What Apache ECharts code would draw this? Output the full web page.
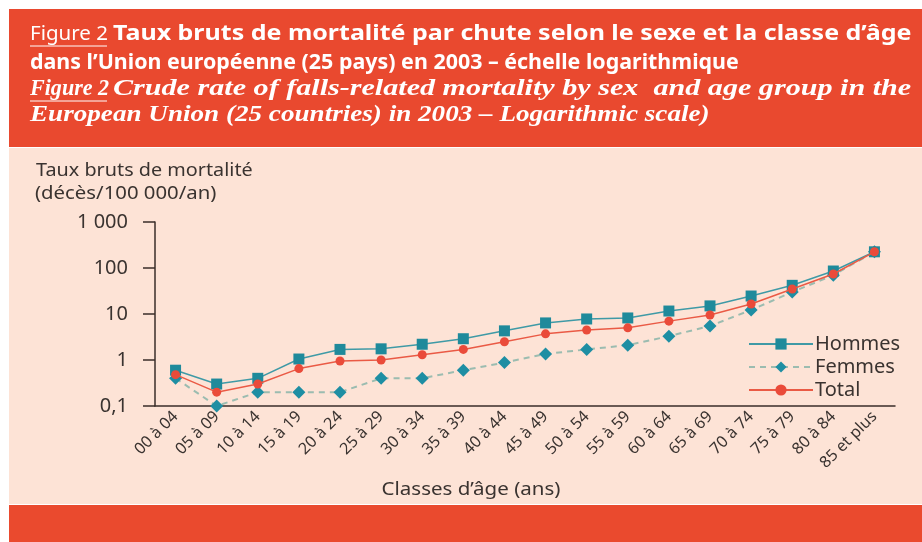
<!DOCTYPE html>
<html><head><meta charset="utf-8">
<script src="https://cdn.jsdelivr.net/npm/echarts@6/dist/echarts.min.js"></script>
<style>html,body{margin:0;padding:0;background:#fff}#c{width:922px;height:542px}</style>
</head><body><div id="c"></div>
<script>
var categories = ['00 à 04','05 à 09','10 à 14','15 à 19','20 à 24','25 à 29','30 à 34','35 à 39','40 à 44','45 à 49','50 à 54','55 à 59','60 à 64','65 à 69','70 à 74','75 à 79','80 à 84','85 et plus'];
var hommes = [0.6,0.3,0.4,1.05,1.7,1.75,2.2,2.9,4.3,6.4,7.8,8.2,11.6,15,24.6,42,86,225];
var femmes = [0.4,0.1,0.2,0.2,0.2,0.4,0.4,0.6,0.88,1.35,1.7,2.1,3.3,5.5,12.2,30,70,225];
var total  = [0.48,0.2,0.3,0.65,0.95,1.0,1.3,1.7,2.5,3.7,4.5,5.0,7.0,9.5,16.5,35,74,225];
var yTicks = {'-1':'0,1','0':'1','1':'10','2':'100','3':'1 000'};
var seriesNames = ['Hommes','Femmes','Total'];

var chart = echarts.init(document.getElementById('c'), null, {renderer:'canvas'});
var FONT = 'Noto Sans';
var TXT = '#3a3330';
function t(x, y, str, font, sx, fill){
  return {type:'text', x:x, y:y, scaleX:sx||1, style:{text:str, fill:fill||'#fff', font:font}};
}
chart.setOption({
  backgroundColor:'#ffffff',
  animation:false,
  graphic:[
    {type:'rect', z:-10, shape:{x:9,y:9,width:913,height:138}, style:{fill:'#e9492f'}},
    {type:'rect', z:-10, shape:{x:9,y:148,width:913,height:356}, style:{fill:'#fde3d6'}},
    {type:'rect', z:-10, shape:{x:9,y:505,width:913,height:37}, style:{fill:'#ea4a2e'}},
    t(30, 25, 'Figure 2', '19px "Noto Sans"', 1.08),
    {type:'line', shape:{x1:30,y1:46,x2:107,y2:46}, style:{stroke:'#fff',lineWidth:1}},
    t(113, 24, 'Taux bruts de mortalité par chute selon le sexe et la classe d’âge', 'bold 21px "Noto Sans"', 1.19),
    t(30, 53, 'dans l’Union européenne (25 pays) en 2003 – échelle logarithmique', 'bold 21px "Noto Sans"', 1.02),
    t(30, 77, 'Figure 2', 'italic bold 24px "Liberation Serif"', 0.92),
    {type:'line', shape:{x1:30,y1:101,x2:107,y2:101}, style:{stroke:'#fff',lineWidth:1}},
    t(113, 77, 'Crude rate of falls-related mortality by sex  and age group in the', 'italic bold 24px "Liberation Serif"', 1.255),
    t(30, 103, 'European Union (25 countries) in 2003 – Logarithmic scale)', 'italic bold 24px "Liberation Serif"', 1.13),
    t(36, 162, 'Taux bruts de mortalité', '18px "Noto Sans"', 1.1, TXT),
    t(35, 185, '(décès/100 000/an)', '18px "Noto Sans"', 1.13, TXT),
    {type:'text', x:471, y:481, scaleX:1.14, style:{text:'Classes d’âge (ans)', fill:TXT, font:'18px "Noto Sans"', textAlign:'center', align:'center'}}
  ],
  grid:{left:155, right:27, top:222, bottom:136, containLabel:false},
  legend:{
    orient:'vertical', left:743, top:329, itemWidth:64, itemHeight:14, itemGap:3,
    textStyle:{color:TXT, fontSize:20, fontFamily:FONT, padding:[0,0,0,-3]},
    data:seriesNames
  },
  xAxis:{
    type:'category', data:categories, boundaryGap:true,
    axisLine:{lineStyle:{color:'#3a2e2a', width:1.5}},
    axisTick:{inside:true, length:5, lineStyle:{color:'#3a2e2a'}},
    axisLabel:{rotate:45, color:TXT, fontSize:16, fontFamily:FONT, margin:8, interval:0},
    splitLine:{show:false}
  },
  yAxis:{
    type:'log', logBase:10, min:0.1, max:1000,
    axisLine:{show:true, lineStyle:{color:'#3a2e2a', width:1.5}},
    axisTick:{show:true, length:12, lineStyle:{color:'#3a2e2a', width:1.5}},
    minorTick:{show:false},
    axisLabel:{color:TXT, fontSize:20, fontFamily:FONT, margin:27,
      formatter:function(v){ return yTicks[String(Math.round(Math.log10(v)))] || ''; }},
    splitLine:{show:false}
  },
  series:[
    {name:seriesNames[0], type:'line', data:hommes, symbol:'rect', symbolSize:11,
      itemStyle:{color:'#1f8a9b'}, lineStyle:{color:'#3f9aa6', width:1.5}, z:3},
    {name:seriesNames[1], type:'line', data:femmes, symbol:'diamond', symbolSize:13,
      itemStyle:{color:'#1e8ea3'}, lineStyle:{color:'#9bbcb0', width:2, type:[6,5]}, z:2},
    {name:seriesNames[2], type:'line', data:total, symbol:'circle', symbolSize:9,
      itemStyle:{color:'#ea4b3a'}, lineStyle:{color:'#ea5a45', width:1.5}, z:4}
  ]
});
</script></body></html>
